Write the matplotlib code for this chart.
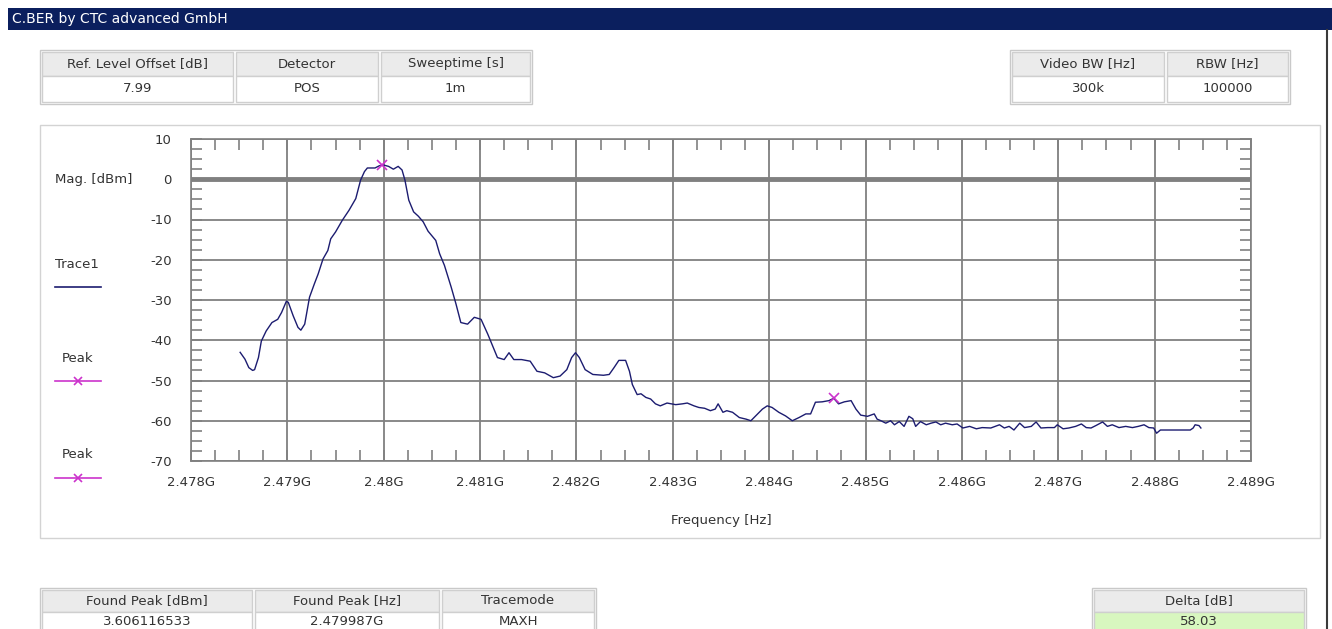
import matplotlib
matplotlib.use("Agg")
import matplotlib.pyplot as plt
from matplotlib.patches import Rectangle
from matplotlib.ticker import MultipleLocator, FuncFormatter

plt.rcParams["axes.unicode_minus"] = False
plt.rcParams["font.family"] = ["DejaVu Sans"]

# Trace data (frequency in GHz, level in dBm)
freq_ghz = [
    2.47851, 2.47856, 2.47860, 2.47864, 2.47866, 2.47870, 2.47873, 2.47878,
    2.47884, 2.47890, 2.47894, 2.47899, 2.47901, 2.47906, 2.47911, 2.47914,
    2.47918, 2.47923, 2.47928, 2.47932, 2.47937, 2.47942, 2.47945, 2.47950,
    2.47957, 2.47964, 2.47971, 2.47976, 2.47980, 2.47983, 2.47991, 2.47995,
    2.479987, 2.48005, 2.48010, 2.48015, 2.48019, 2.48022, 2.48026, 2.48031,
    2.48036, 2.48041, 2.48046, 2.48054, 2.48058, 2.48063, 2.48070, 2.48075,
    2.48080, 2.48087, 2.48094, 2.48101, 2.48108, 2.48113, 2.48118, 2.48125,
    2.48130, 2.48135, 2.48143, 2.48152, 2.48159, 2.48167, 2.48176, 2.48183,
    2.48190, 2.48195, 2.48199, 2.48203, 2.48209, 2.48217, 2.48228, 2.48234,
    2.48239, 2.48244, 2.48251, 2.48255, 2.48258, 2.48263, 2.48267, 2.48272,
    2.48277, 2.48282, 2.48287, 2.48294, 2.48303, 2.48310, 2.48315, 2.48322,
    2.48327, 2.48333, 2.48339, 2.48344, 2.48347, 2.48352, 2.48356, 2.48362,
    2.48369, 2.48376, 2.48381, 2.48386, 2.48393, 2.48398, 2.48403, 2.48410,
    2.48417, 2.48424, 2.48431, 2.48438, 2.48443, 2.48448, 2.48455, 2.48462,
    2.48467, 2.48472, 2.48478, 2.48485, 2.48490, 2.48495, 2.48502, 2.48509,
    2.48512, 2.48516, 2.48521, 2.48526, 2.48530, 2.48535, 2.48540, 2.48545,
    2.48549, 2.48552, 2.48557, 2.48563, 2.48568, 2.48573, 2.48578, 2.48583,
    2.48590, 2.48595, 2.48601, 2.48608, 2.48615, 2.48621, 2.48630, 2.48639,
    2.48644, 2.48649, 2.48654, 2.48660, 2.48665, 2.48672, 2.48677, 2.48682,
    2.48689, 2.48696, 2.48699, 2.48705, 2.48711, 2.48718, 2.48724, 2.48729,
    2.48734, 2.48739, 2.48746, 2.48751, 2.48756, 2.48763, 2.48770, 2.48777,
    2.48783, 2.48789, 2.48794, 2.48799, 2.48802, 2.48806, 2.48815, 2.48825,
    2.48834, 2.48837, 2.48840, 2.48842, 2.48846, 2.48848,
]
level_dbm = [
    -43.0, -44.7, -46.8, -47.5, -47.3, -44.3, -40.2, -37.7,
    -35.6, -34.8, -33.1, -30.3, -30.6, -33.9, -36.8, -37.5,
    -36.0, -29.3, -26.0, -23.5, -19.8, -17.7, -14.8, -13.1,
    -10.2, -7.7, -4.8, -0.2, 1.9, 2.8, 2.8, 3.3,
    3.606, 3.2, 2.5, 3.2, 2.3, -0.2, -5.2, -8.1,
    -9.2, -10.6, -12.9, -15.2, -18.5, -21.4, -26.8, -31.0,
    -35.6, -36.0, -34.3, -34.8, -38.5, -41.4, -44.3, -44.8,
    -43.1, -44.8, -44.8, -45.2, -47.7, -48.1, -49.3, -48.9,
    -47.3, -44.3, -43.1, -44.3, -47.3, -48.5, -48.7, -48.5,
    -46.8, -45.0, -45.0, -47.7, -51.0, -53.5, -53.3, -54.2,
    -54.6, -55.8, -56.3, -55.6, -56.0, -55.8, -55.6, -56.3,
    -56.7, -56.9, -57.5, -57.1, -55.8, -57.9, -57.5, -57.9,
    -59.2, -59.6, -60.0, -58.8, -57.1, -56.3, -56.7, -57.9,
    -58.8, -60.0, -59.2, -58.3, -58.3, -55.4, -55.3, -55.0,
    -54.42, -55.8, -55.3, -55.0, -57.1, -58.6, -58.9, -58.3,
    -59.6, -60.0, -60.6, -60.0, -61.0, -60.2, -61.4, -58.9,
    -59.5, -61.4, -60.2, -61.0, -60.6, -60.3, -61.0, -60.6,
    -61.0, -60.8, -61.8, -61.4, -62.0, -61.7, -61.8, -61.0,
    -61.8, -61.4, -62.3, -60.6, -61.7, -61.4, -60.3, -61.8,
    -61.7, -61.7, -61.0, -62.0, -61.8, -61.4, -60.8, -61.7,
    -61.8, -61.2, -60.3, -61.4, -61.0, -61.7, -61.4, -61.7,
    -61.4, -61.0, -61.7, -61.8, -63.1, -62.3, -62.3, -62.3,
    -62.3, -62.3, -61.8, -61.0, -61.2, -61.8,
]

peak_freq = [2.479987, 2.48467]
peak_level = [3.606, -54.42]

top_left_headers = ["Ref. Level Offset [dB]", "Detector", "Sweeptime [s]"]
top_left_values = ["7.99", "POS", "1m"]
top_right_headers = ["Video BW [Hz]", "RBW [Hz]"]
top_right_values = ["300k", "100000"]
bottom_headers = ["Found Peak [dBm]", "Found Peak [Hz]", "Tracemode"]
bottom_values = ["3.606116533", "2.479987G", "MAXH"]
delta_header = ["Delta [dB]"]
delta_value = ["58.03"]

W, H = 1332, 629
FS = 9.5
TXT = "#333333"
TRACE = "#1c1c70"
PEAK = "#cc33cc"

fig = plt.figure(figsize=(W / 100, H / 100), dpi=100)
fig.patch.set_facecolor("white")

# background layer in pixel coordinates
bg = fig.add_axes([0, 0, 1, 1])
bg.set_xlim(0, W)
bg.set_ylim(H, 0)
bg.axis("off")


def draw_table(x0, y0, widths, headers, values, head_h=24, row_h=26,
               value_fill="white"):
    total = sum(widths) + 3 * (len(widths) - 1) + 4
    bg.add_patch(Rectangle((x0 - 2, y0 - 2), total, head_h + row_h + 4,
                           facecolor="white", edgecolor="#c9c9c9", lw=1))
    x = x0
    for w, h_txt, v_txt in zip(widths, headers, values):
        bg.add_patch(Rectangle((x, y0), w, head_h, facecolor="#ebebeb",
                               edgecolor="#cfcfcf", lw=1))
        bg.add_patch(Rectangle((x, y0 + head_h), w, row_h,
                               facecolor=value_fill, edgecolor="#cfcfcf", lw=1))
        bg.text(x + w / 2, y0 + head_h / 2, h_txt, ha="center", va="center",
                fontsize=FS, color=TXT)
        bg.text(x + w / 2, y0 + head_h + row_h / 2, v_txt, ha="center",
                va="center", fontsize=FS, color=TXT)
        x += w + 3


# title bar
bg.add_patch(Rectangle((8, 8), W - 8, 22, facecolor="#0b1f5e", edgecolor="none"))
bg.text(12, 19, "C.BER by CTC advanced GmbH", color="white", fontsize=10,
        va="center", ha="left")
bg.plot([1327, 1327], [30, H], color="#3a3a3a", lw=1.5)

draw_table(42, 52, [191, 142, 149], top_left_headers, top_left_values)
draw_table(1012, 52, [152, 121], top_right_headers, top_right_values)

# chart panel frame
bg.add_patch(Rectangle((40, 125), 1280, 413, facecolor="none",
                       edgecolor="#d3d3d3", lw=1))

draw_table(42, 590, [210, 184, 152], bottom_headers, bottom_values,
           head_h=22, row_h=19)
draw_table(1094, 590, [210], delta_header, delta_value, head_h=22, row_h=19,
           value_fill="#d8f7bf")

# left legend column
bg.text(55, 180, "Mag. [dBm]", fontsize=FS, color=TXT, va="center")
bg.text(55, 265, "Trace1", fontsize=FS, color=TXT, va="center")
bg.plot([55, 101], [287, 287], color=TRACE, lw=1.2)
for ty, ly in [(358, 381), (455, 478)]:
    bg.text(78, ty, "Peak", fontsize=FS, color=TXT, va="center", ha="center")
    bg.plot([55, 101], [ly, ly], color=PEAK, lw=1.2)
    bg.plot([78], [ly], marker="x", color=PEAK, ms=6, mew=1.2)

# main plot
ax = fig.add_axes([191 / W, (H - 461) / H, 1060 / W, 322 / H])
ax.plot(freq_ghz, level_dbm, color=TRACE, lw=1.0, zorder=3)
ax.plot(peak_freq, peak_level, linestyle="none", marker="x", color=PEAK,
        ms=7, mew=1.2, zorder=4)
ax.axhline(0, color="#808080", lw=3.5, zorder=2)

ax.set_xlim(2.478, 2.489)
ax.set_ylim(-70, 10)
ax.xaxis.set_major_locator(MultipleLocator(0.001))
ax.xaxis.set_minor_locator(MultipleLocator(0.00025))
ax.yaxis.set_major_locator(MultipleLocator(10))
ax.yaxis.set_minor_locator(MultipleLocator(2.5))
ax.xaxis.set_major_formatter(FuncFormatter(lambda v, p: f"{round(v, 4):g}G"))
ax.grid(True, which="major", color="#808080", lw=1.3, zorder=1)
ax.tick_params(which="both", direction="in", top=True, right=True,
               color="#808080", labelsize=FS, labelcolor=TXT)
ax.tick_params(which="major", length=8, width=1.2)
ax.tick_params(which="minor", length=8, width=1.2)
ax.tick_params(axis="x", pad=11)
ax.tick_params(axis="y", pad=14)
for s in ax.spines.values():
    s.set_color("#808080")
    s.set_linewidth(1.2)
ax.set_xlabel("Frequency [Hz]", fontsize=FS, color=TXT, labelpad=18)

fig.savefig("out.png", dpi=100)
